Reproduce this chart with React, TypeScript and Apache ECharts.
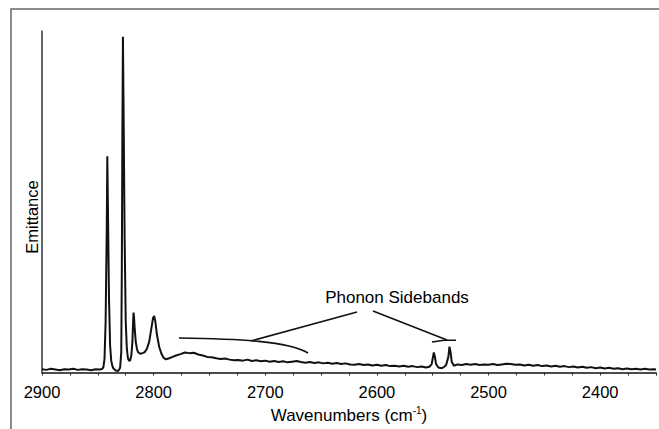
import React, { useEffect, useRef } from "react";
import * as echarts from "echarts";

const wavenumbers = [
  2900, 2896, 2892, 2888, 2884, 2880, 2876, 2872, 2868, 2864, 2860, 2856, 2852, 2848, 2846,
  2845, 2844, 2843, 2842, 2841.5, 2841, 2840, 2839, 2838, 2837, 2836, 2834, 2832, 2831, 2830,
  2829, 2828.5, 2828, 2827.5, 2827, 2826, 2825, 2824, 2823, 2822, 2821, 2820, 2819, 2818.5,
  2818, 2817.5, 2817, 2816, 2815, 2814, 2812, 2810, 2808, 2806, 2804, 2802, 2800.5, 2799.5,
  2798.5, 2797, 2795, 2793, 2791, 2789, 2786, 2783, 2780, 2776, 2772, 2768, 2764, 2760, 2756,
  2752, 2748, 2744, 2740, 2736, 2732, 2728, 2724, 2720, 2716, 2712, 2708, 2704, 2700, 2696,
  2692, 2688, 2684, 2680, 2676, 2672, 2668, 2664, 2660, 2656, 2652, 2648, 2644, 2640, 2636,
  2632, 2628, 2624, 2620, 2616, 2612, 2608, 2604, 2600, 2596, 2592, 2588, 2584, 2580, 2576,
  2572, 2568, 2564, 2560, 2556, 2553, 2551, 2550, 2549, 2548, 2547, 2545, 2542, 2540, 2538,
  2536, 2535, 2534, 2533, 2531, 2528, 2524, 2520, 2516, 2512, 2508, 2504, 2500, 2496, 2492,
  2488, 2484, 2480, 2476, 2472, 2468, 2464, 2460, 2456, 2452, 2448, 2444, 2440, 2436, 2432,
  2428, 2424, 2420, 2416, 2412, 2408, 2404, 2400, 2396, 2392, 2388, 2384, 2380, 2376, 2372,
  2368, 2364, 2360, 2356, 2352, 2350,
];

const emittance = [
  1.0, 0.8, 1.1, 0.9, 0.7, 1.0, 0.9, 1.1, 0.8, 1.0, 0.9, 0.7, 1.0, 0.9, 1.1,
  1.6, 4, 15, 42, 63.3, 50, 22, 8, 3.5, 2, 1.2, 0.6, 0.5, 0.8, 1.5,
  6, 30, 70, 98.3, 80, 40, 15, 7, 4.2, 3.4, 3.6, 5, 9, 14,
  17.6, 16, 13, 9, 7, 6, 5.5, 5.7, 6, 7, 9, 13, 16, 16.6,
  15, 11, 7.5, 5.5, 4.3, 3.9, 4.2, 4.6, 5.0, 5.4, 5.9, 5.7, 5.8, 5.3, 5.0,
  4.6, 4.5, 4.2, 4.0, 4.1, 3.8, 3.6, 3.7, 3.5, 3.8, 3.4, 3.6, 3.3, 3.5, 3.2,
  3.4, 3.1, 3.3, 3.0, 3.2, 3.4, 3.1, 2.9, 3.1, 2.8, 3.0, 2.7, 2.9, 2.6, 2.8,
  2.5, 2.7, 2.4, 2.3, 2.5, 2.2, 2.4, 2.1, 2.3, 2.0, 2.2, 1.9, 2.0, 1.8, 2.0,
  1.7, 1.9, 1.6, 1.8, 1.5, 1.7, 2.4, 4.2, 5.9, 4.5, 2.5, 1.5, 1.3, 1.6, 2.2,
  4.6, 7.6, 6.0, 3.2, 2.0, 2.4, 2.2, 2.5, 2.3, 2.5, 2.2, 2.4, 2.3, 2.5, 2.2,
  2.4, 2.6, 2.5, 2.3, 2.4, 2.1, 2.3, 2.0, 2.2, 1.9, 2.1, 1.8, 2.0, 1.7, 1.9,
  1.6, 1.8, 1.5, 1.7, 1.4, 1.6, 1.3, 1.5, 1.2, 1.4, 1.1, 1.3, 1.0, 1.2, 1.0,
  1.1, 0.9, 1.1, 0.9, 1.0, 0.9,
];

const xMin = 2350;
const xMax = 2900;
const tickStep = 25;

const FONT = "'Liberation Sans', Arial, Helvetica, sans-serif";

export default function App() {
  const ref = useRef<HTMLDivElement>(null);

  useEffect(() => {
    if (!ref.current) return;
    const chart = echarts.init(ref.current, null, { renderer: "svg" });
    const data = wavenumbers.map((w, i) => [w, emittance[i]]);
    chart.setOption({
      animation: false,
      backgroundColor: "#ffffff",
      grid: { left: 42, top: 31, right: 0, bottom: 55.5, containLabel: false },
      xAxis: {
        type: "value",
        inverse: true,
        min: xMin,
        max: xMax,
        interval: tickStep,
        name: "{a|Wavenumbers (cm}{b|-1}{a|)}",
        nameLocation: "middle",
        nameGap: 32,
        nameTextStyle: {
          rich: {
            a: { fontSize: 17, fontFamily: FONT, color: "#000", lineHeight: 20 },
            b: { fontSize: 10, fontFamily: FONT, color: "#000", verticalAlign: "top", lineHeight: 20 },
          },
        },
        axisLine: { show: true, onZero: false, lineStyle: { color: "#111", width: 1.5 } },
        axisTick: { show: true, length: 3, lineStyle: { color: "#333", width: 1 } },
        splitLine: { show: false },
        axisLabel: {
          margin: 11,
          fontSize: 16.5,
          fontFamily: FONT,
          color: "#000",
          showMinLabel: true,
          showMaxLabel: true,
          formatter: (v: number) => (Math.round(v) % 100 === 0 ? String(Math.round(v)) : ""),
        },
      },
      yAxis: {
        type: "value",
        min: 0,
        max: 100,
        axisLine: { show: true, lineStyle: { color: "#333", width: 1.5 } },
        axisTick: { show: false },
        axisLabel: { show: false },
        splitLine: { show: false },
      },
      series: [
        {
          type: "line",
          data,
          showSymbol: false,
          symbol: "none",
          lineStyle: { color: "#111", width: 2 },
          silent: true,
        },
      ],
      graphic: [
        {
          type: "rect",
          shape: { x: 11, y: 9, width: 700, height: 500 },
          style: { fill: "none", stroke: "#666", lineWidth: 1.5 },
          silent: true,
        },
        {
          type: "text",
          x: 31.5,
          y: 217,
          rotation: Math.PI / 2,
          style: {
            text: "Emittance",
            fontSize: 16.5,
            fontFamily: FONT,
            fill: "#000",
            align: "center",
            verticalAlign: "middle",
          },
        },
        {
          type: "text",
          x: 397,
          y: 297,
          style: {
            text: "Phonon Sidebands",
            fontSize: 17,
            fontFamily: FONT,
            fill: "#000",
            align: "center",
            verticalAlign: "middle",
          },
        },
        {
          type: "bezierCurve",
          shape: { x1: 179, y1: 338, cpx1: 240, cpy1: 339, cpx2: 288, cpy2: 341, x2: 308, y2: 353 },
          style: { stroke: "#111", lineWidth: 1.6, fill: "none" },
        },
        {
          type: "line",
          shape: { x1: 251, y1: 341, x2: 357, y2: 312 },
          style: { stroke: "#111", lineWidth: 1.6 },
        },
        {
          type: "line",
          shape: { x1: 373, y1: 311, x2: 447, y2: 340 },
          style: { stroke: "#111", lineWidth: 1.6 },
        },
        {
          type: "polyline",
          shape: { points: [[432, 342], [444, 340.3], [456, 340.3]] },
          style: { stroke: "#111", lineWidth: 1.6, fill: "none" },
        },
      ],
    });
    return () => chart.dispose();
  }, []);

  return (
    <div
      ref={ref}
      style={{ position: "fixed", left: 0, top: 0, width: 659, height: 429, background: "#fff" }}
    />
  );
}
